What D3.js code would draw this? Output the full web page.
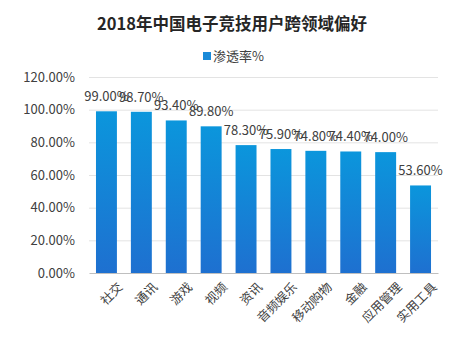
<!DOCTYPE html>
<html><head><meta charset="utf-8">
<script src="https://cdn.jsdelivr.net/npm/d3@7"></script>
<style>body{margin:0;background:#fff}svg{display:block}</style>
</head><body><svg id="c" width="465" height="339"></svg>
<script>
const categories = ["社交","通讯","游戏","视频","资讯","音频娱乐","移动购物","金融","应用管理","实用工具"];
const values = [99.0,98.7,93.4,89.8,78.3,75.9,74.8,74.4,74.0,53.6];
const yTicks = [0,20,40,60,80,100,120];
const title = "2018年中国电子竞技用户跨领域偏好";
const seriesName = "渗透率%";

const svg = d3.select("#c");
const font = "'Noto Sans CJK SC','Noto Sans',sans-serif";
const m = {l:89, r:27, t:77, b:66};
const W = 465, H = 339;
const x = d3.scaleBand().domain(categories).range([m.l, W-m.r]).paddingInner(0.4).paddingOuter(0.2);
const y = d3.scaleLinear().domain([0,120]).range([H-m.b, m.t]);

const defs = svg.append("defs");
const g = defs.append("linearGradient").attr("id","bg").attr("x1",0).attr("y1",0).attr("x2",0).attr("y2",1);
g.append("stop").attr("offset","0%").attr("stop-color","#0b96dc");
g.append("stop").attr("offset","100%").attr("stop-color","#1e70d0");

svg.append("text").attr("x",232).attr("y",30).attr("text-anchor","middle")
  .attr("font-family",font).attr("font-size",16.5).attr("font-weight","bold").attr("fill","#262626").text(title);

svg.append("rect").attr("x",203).attr("y",52).attr("width",8).attr("height",8).attr("fill","#1a8ad8");
svg.append("text").attr("x",213).attr("y",61).attr("font-family",font).attr("font-size",13).attr("fill","#404040").text(seriesName);

// grid
svg.append("g").selectAll("line").data(yTicks.filter(d=>d>0)).join("line")
  .attr("x1",m.l).attr("x2",W-m.r).attr("y1",d=>y(d)+0.5).attr("y2",d=>y(d)+0.5)
  .attr("stroke","#e3e3e3").attr("stroke-width",1);

const ya = svg.append("g").attr("transform",`translate(${m.l},0)`)
  .call(d3.axisLeft(y).tickValues(yTicks).tickFormat(d=>d.toFixed(2)+"%").tickSize(0).tickPadding(14));
ya.select(".domain").remove();
ya.selectAll("text").attr("font-family",font).attr("font-size",13).attr("fill","#404040");

svg.append("g").selectAll("rect").data(values).join("rect")
  .attr("x",(d,i)=>x(categories[i])).attr("width",x.bandwidth())
  .attr("y",d=>y(d)).attr("height",d=>y(0)-y(d)).attr("fill","url(#bg)");

const xa = svg.append("g").attr("transform",`translate(0,${y(0)})`)
  .call(d3.axisBottom(x).tickSize(0).tickPadding(8));
xa.select(".domain").attr("stroke","#bfbfbf");
xa.selectAll("text").attr("font-family",font).attr("font-size",12.5).attr("fill","#404040")
  .attr("text-anchor","end").attr("dy","0.6em")
  .attr("transform","translate(6,4) rotate(-45)");

svg.append("g").selectAll("text").data(values).join("text")
  .attr("x",(d,i)=>x(categories[i])+x.bandwidth()/2).attr("y",d=>y(d)-10)
  .attr("text-anchor","middle").attr("font-family",font).attr("font-size",13).attr("fill","#404040")
  .text(d=>d.toFixed(2)+"%");
</script></body></html>
